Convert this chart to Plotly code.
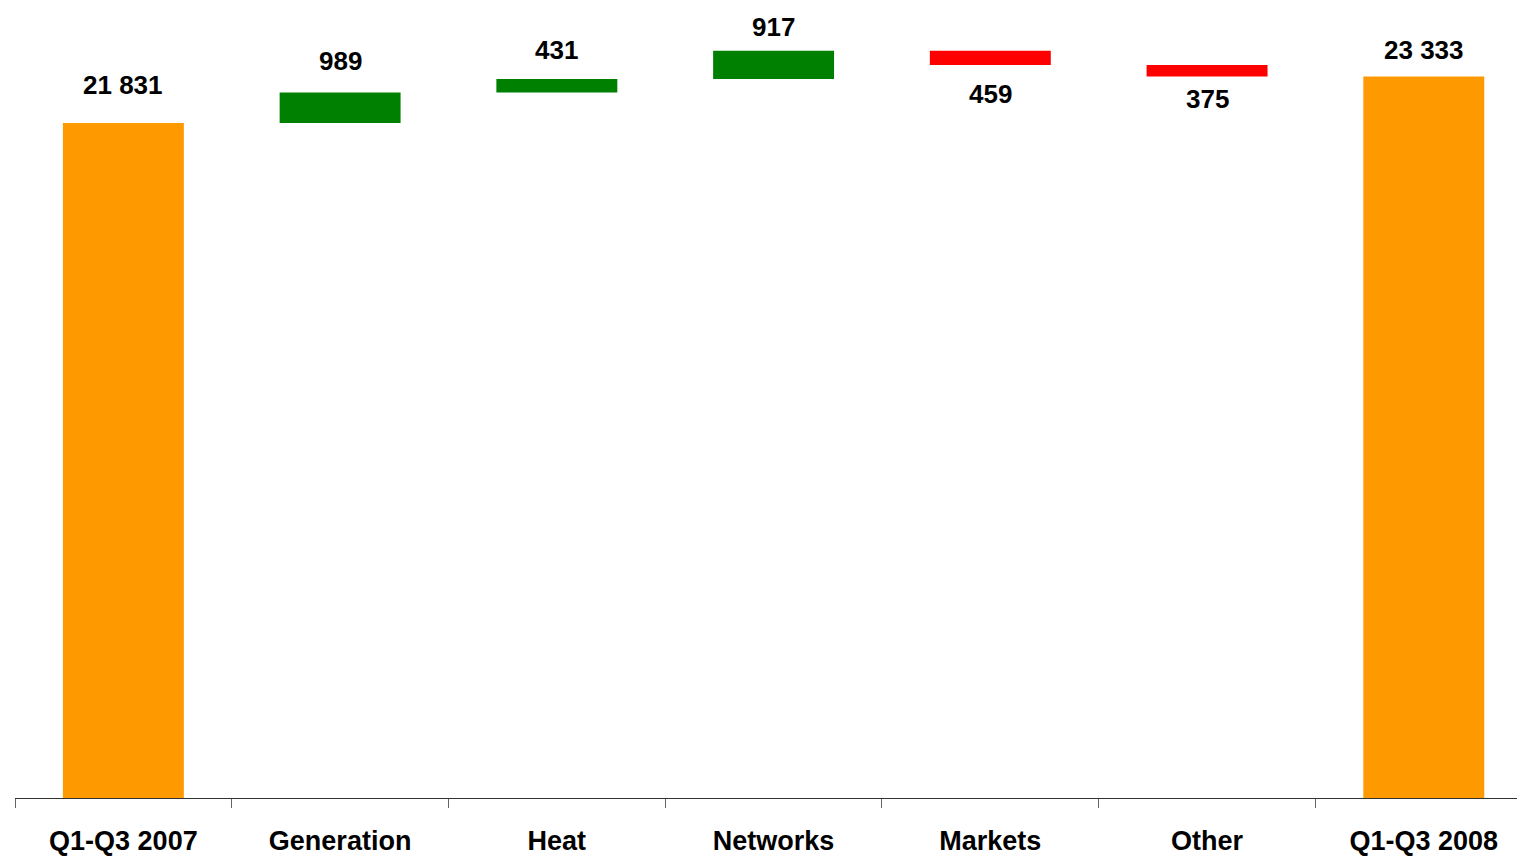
import plotly.graph_objects as go

categories = ["Q1-Q3 2007", "Generation", "Heat", "Networks", "Markets", "Other", "Q1-Q3 2008"]
values = [21831, 989, 431, 917, -459, -375, 23333]
measures = ["absolute", "relative", "relative", "relative", "relative", "relative", "absolute"]

# pixel offsets of the value labels from the bar end (style only)
label_offsets = [38, 31, 29, 24, 29, 22, 27]

ORANGE = "#FF9900"
GREEN = "#008000"
RED = "#FF0000"

fig = go.Figure()
fig.add_trace(go.Waterfall(
    x=categories,
    y=values,
    measure=measures,
    width=0.558,
    increasing=dict(marker=dict(color=GREEN)),
    decreasing=dict(marker=dict(color=RED)),
    totals=dict(marker=dict(color=ORANGE)),
    connector=dict(visible=False),
    textposition="none",
    hoverinfo="skip",
))

# label anchors computed from the data
running = 0
for cat, v, m, off in zip(categories, values, measures, label_offsets):
    if m == "absolute":
        running = v
        yv, shift = v, off
        txt = f"{v:,}".replace(",", "\u00a0")
    else:
        running += v
        txt = f"{abs(v):,}".replace(",", "\u00a0")
        if v >= 0:
            yv, shift = running, off
        else:
            yv, shift = running, -off
    fig.add_annotation(
        x=cat, y=yv, yshift=shift, text=txt, showarrow=False,
        font=dict(family="Liberation Sans, Arial", size=26, color="black", weight="bold"),
        xanchor="center", yanchor="middle",
    )

fig.update_layout(
    width=1518, height=858,
    margin=dict(l=15, r=1, t=0, b=60, autoexpand=False),
    paper_bgcolor="white", plot_bgcolor="white",
    showlegend=False,
    xaxis=dict(
        range=[-0.5, 6.43],
        automargin=False,
        showline=True, linecolor="#333333", linewidth=1,
        ticks="outside", tickson="boundaries", ticklen=9, tickcolor="#666666",
        tickfont=dict(family="Liberation Sans, Arial", size=27, color="black", weight="bold"),
        ticklabelstandoff=19,
        showgrid=False, zeroline=False,
    ),
    yaxis=dict(
        range=[0, 25808], visible=False, showgrid=False, zeroline=False,
    ),
)

fig.write_html(
    "out.html",
    config={"displayModeBar": False, "staticPlot": True},
    post_script="document.body.style.margin='0px';document.body.style.overflow='hidden';",
)
